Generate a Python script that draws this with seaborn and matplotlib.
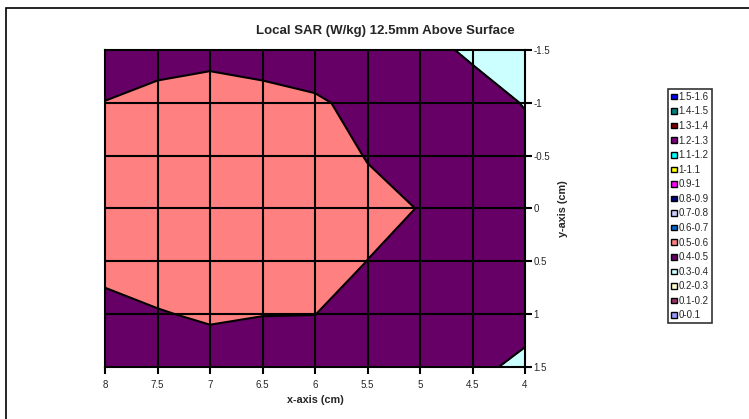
"""
Local SAR contour map, 12.5mm above the phantom surface.
"""
import matplotlib
matplotlib.use("Agg")
import matplotlib.pyplot as plt
import numpy as np
import seaborn as sns
from matplotlib.patches import Patch, Rectangle

# grid positions (cm)
x_cm = [8, 7.5, 7, 6.5, 6, 5.5, 5, 4.5, 4]
y_cm = [-1.5, -1, -0.5, 0, 0.5, 1, 1.5]

# SAR values (W/kg), one row per y position, columns follow x_cm
sar_rows = [
    [0.450, 0.470, 0.480, 0.470, 0.460, 0.440, 0.420, 0.390, 0.360],
    [0.502, 0.522, 0.530, 0.522, 0.509, 0.480, 0.450, 0.426, 0.397],
    [0.540, 0.560, 0.570, 0.565, 0.550, 0.495, 0.460, 0.440, 0.420],
    [0.550, 0.570, 0.580, 0.575, 0.560, 0.530, 0.497, 0.450, 0.430],
    [0.520, 0.540, 0.555, 0.550, 0.550, 0.499, 0.460, 0.440, 0.430],
    [0.480, 0.495, 0.510, 0.502, 0.501, 0.450, 0.440, 0.430, 0.420],
    [0.440, 0.460, 0.460, 0.450, 0.440, 0.420, 0.410, 0.412, 0.388],
]

x_ticklabels = ["8", "7.5", "7", "6.5", "6", "5.5", "5", "4.5", "4"]
y_ticklabels = ["-1.5", "-1", "-0.5", "0", "0.5", "1", "1.5"]

# contour bands 0-0.1 ... 1.5-1.6 and their Excel fill colours
band_edges = [0.0, 0.1, 0.2, 0.3, 0.4, 0.5, 0.6, 0.7, 0.8, 0.9,
              1.0, 1.1, 1.2, 1.3, 1.4, 1.5, 1.6]
band_labels = ["0-0.1", "0.1-0.2", "0.2-0.3", "0.3-0.4", "0.4-0.5",
               "0.5-0.6", "0.6-0.7", "0.7-0.8", "0.8-0.9", "0.9-1",
               "1-1.1", "1.1-1.2", "1.2-1.3", "1.3-1.4", "1.4-1.5",
               "1.5-1.6"]
band_colors = ["#9999FF", "#993366", "#FFFFCC", "#CCFFFF", "#660066",
               "#FF8080", "#0066CC", "#CCCCFF", "#000080", "#FF00FF",
               "#FFFF00", "#00FFFF", "#800080", "#800000", "#008080",
               "#0000FF"]

sns.set_style("white")
plt.rcParams["font.family"] = ["Liberation Sans", "DejaVu Sans"]

fig = plt.figure(figsize=(7.49, 4.19), dpi=100)
fig.patch.set_facecolor("white")

# chart area border (runs off the right and bottom of the image)
fig.patches.append(Rectangle((6 / 749, -0.1), 1.2, 1 - 8 / 419 + 0.1,
                             transform=fig.transFigure, fill=False,
                             edgecolor="black", linewidth=1.2))

ax = fig.add_axes([105 / 749, 1 - 367 / 419, 420 / 749, 317 / 419])

X, Y = np.meshgrid(x_cm, y_cm)
Z = np.array(sar_rows)

ax.contourf(X, Y, Z, levels=band_edges, colors=band_colors, zorder=1)
ax.contour(X, Y, Z, levels=[0.4, 0.5], colors="black", linewidths=1.5,
           zorder=2)

ax.set_xlim(8, 4)
ax.set_ylim(1.5, -1.5)

ax.set_xticks(x_cm)
ax.set_xticklabels(x_ticklabels)
ax.set_yticks(y_cm)
ax.set_yticklabels(y_ticklabels)
ax.yaxis.tick_right()
ax.yaxis.set_label_position("right")
ax.tick_params(axis="both", which="major", direction="out", length=5,
               width=1.5, color="black", labelsize=7)
ax.tick_params(axis="x", bottom=True, pad=4)
ax.tick_params(axis="y", right=True, left=False, pad=1)

for xv in x_cm[1:-1]:
    ax.axvline(xv, color="black", linewidth=1.5, zorder=3)
for yv in y_cm[1:-1]:
    ax.axhline(yv, color="black", linewidth=1.5, zorder=3)
for spine in ax.spines.values():
    spine.set_visible(True)
    spine.set_color("black")
    spine.set_linewidth(1.5)
    spine.set_zorder(4)

# title is centred on the whole chart area, not the plot
fig.text(385 / 749, 1 - 31 / 419, "Local SAR (W/kg) 12.5mm Above Surface",
         fontsize=9.5, fontweight="bold", ha="center", va="center")
ax.set_xlabel("x-axis (cm)", fontsize=7.8, fontweight="bold", labelpad=4)
ax.set_ylabel("y-axis (cm)", fontsize=7.8, fontweight="bold", labelpad=6,
              rotation=90)

# legend, highest band first like the original
handles = [Patch(facecolor=c, edgecolor="black", linewidth=1.0)
           for c in band_colors[::-1]]
leg = fig.legend(handles, band_labels[::-1], loc="upper left",
                 bbox_to_anchor=(668 / 749, 1 - 89 / 419), fontsize=7,
                 frameon=True, fancybox=False, handlelength=0.6,
                 handleheight=0.5, handletextpad=0.2, labelspacing=0.47,
                 borderpad=0.3, borderaxespad=0)
leg.get_frame().set_edgecolor("black")
leg.get_frame().set_linewidth(1.2)

fig.savefig("out.png", dpi=100)
